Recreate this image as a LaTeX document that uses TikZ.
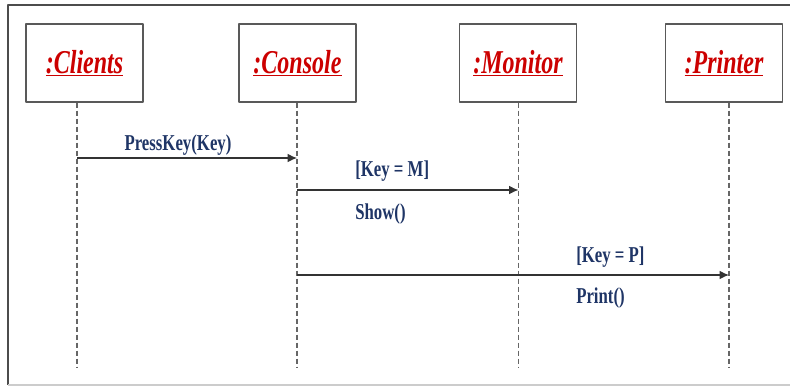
\documentclass[tikz,border=0pt]{standalone}
\usepackage{fontspec}
\setmainfont{Liberation Serif}
\usepackage{graphicx}
\usetikzlibrary{arrows.meta}
\definecolor{titlered}{HTML}{CC0000}
\definecolor{msgblue}{HTML}{1F3566}
\newcommand\objname[1]{\scalebox{0.72}[1]{\underline{#1}}}
\newcommand\msgtext[1]{\scalebox{0.74}[1]{#1}}
\begin{document}
\begin{tikzpicture}[x=0.75pt,y=-0.75pt,line join=round,>={Latex[length=7pt,width=6.5pt]},
	obj/.style={draw=black!65,line width=0.8pt,minimum width=87.75pt,minimum height=58.5pt,inner sep=0pt,
		text=titlered,font=\fontsize{25}{29}\selectfont\bfseries\itshape},
	lifeline/.style={draw=black!60,line width=0.8pt,dash pattern=on 3.75pt off 2.25pt},
	msg/.style={->,draw=black!80,line width=0.9pt},
	lbl/.style={inner sep=0pt,anchor=base west,text=msgblue,font=\fontsize{17}{20}\selectfont\bfseries}]
	\def\yend{368}
	\useasboundingbox (0,0) rectangle (790,387);
	%Khung
	\draw[black!70,line width=1.6pt] (790,5)--(8,5)--(8,385);
	\draw[black!20,line width=0.8pt] (8,385)--(790,385);
	%Cac doi tuong
	\node[obj] (clients) at (84.5,63) {\objname{:Clients}};
	\node[obj] (console) at (297.5,63) {\objname{:Console}};
	\node[obj] (monitor) at (518,63) {\objname{:Monitor}};
	\node[obj] (printer) at (724,63) {\objname{:Printer}};
	\coordinate (clients-end) at (77,\yend);
	\coordinate (console-end) at (297,\yend);
	\coordinate (monitor-end) at (518.5,\yend);
	\coordinate (printer-end) at (729,\yend);
	\foreach \o in {clients,console,monitor,printer}
		\draw[lifeline] (\o.south -| \o-end)--(\o-end);
	%Cac thong diep
	\coordinate (m1a) at (clients-end |- 0,158);
	\coordinate (m1b) at (console-end |- 0,158);
	\coordinate (m2a) at (console-end |- 0,190);
	\coordinate (m2b) at (monitor-end |- 0,190);
	\coordinate (m3a) at (console-end |- 0,275);
	\coordinate (m3b) at (printer-end |- 0,275);
	\draw[msg] (m1a)--(m1b);
	\draw[msg] (m2a)--(m2b);
	\draw[msg] (m3a)--(m3b);
	\node[lbl,anchor=base] (press) at (178,150) {\msgtext{PressKey(Key)}};
	\node[lbl] (keym) at (355,176) {\msgtext{[Key = M]}};
	\node[lbl] (show) at (355,219) {\msgtext{Show()}};
	\node[lbl] (keyp) at (576,262) {\msgtext{[Key = P]}};
	\node[lbl] (print) at (576,303) {\msgtext{Print()}};
\end{tikzpicture}
\end{document}
